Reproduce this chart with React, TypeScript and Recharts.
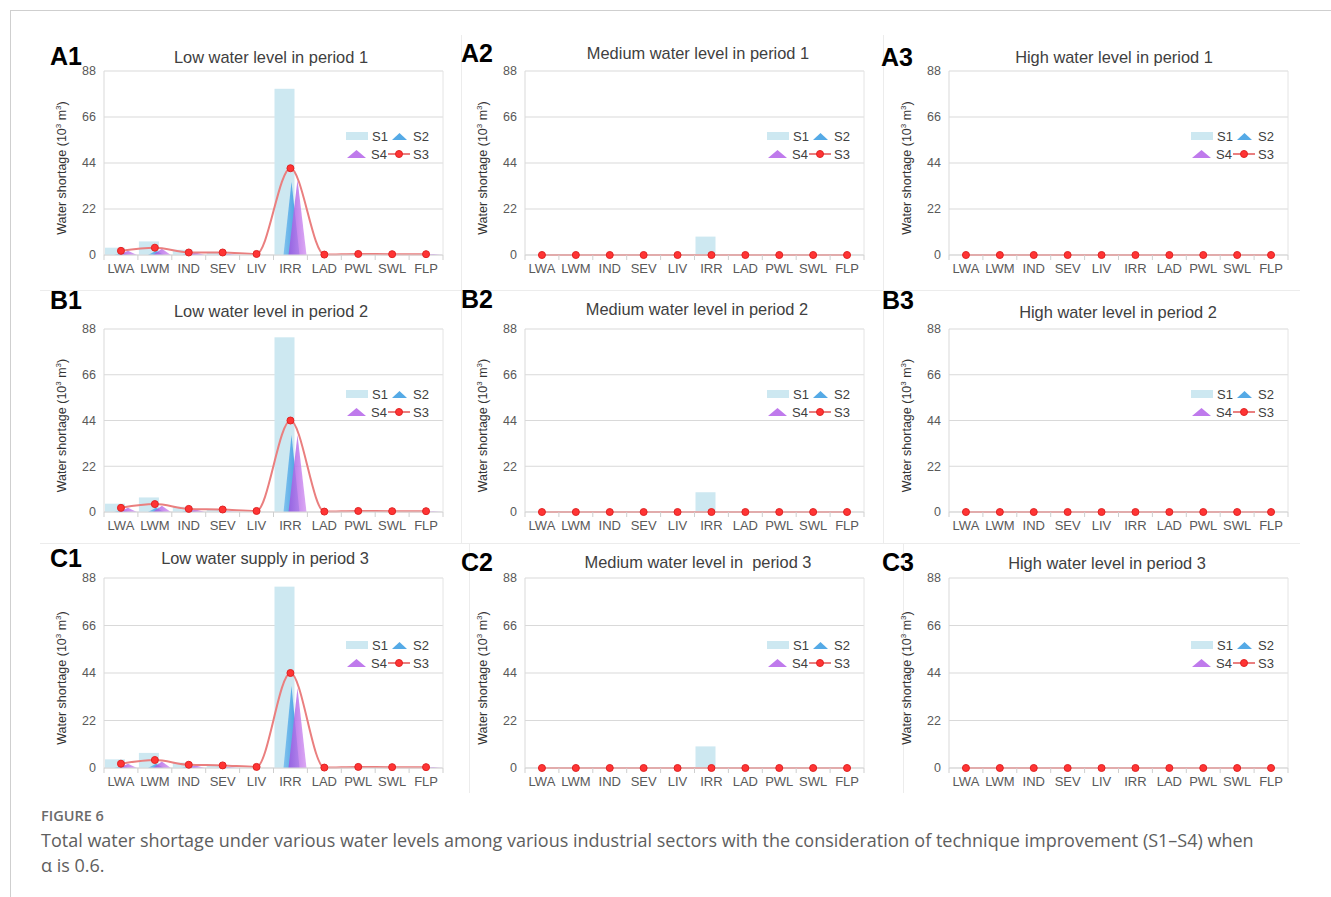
import React from "react";
import { ComposedChart, Bar, Line, XAxis, YAxis, CartesianGrid, Label } from "recharts";

// sectors on the x axis
const categories = ["LWA", "LWM", "IND", "SEV", "LIV", "IRR", "LAD", "PWL", "SWL", "FLP"];
const yTicks = [0, 22, 44, 66, 88];

// low water level (column 1)
const a1S1 = [3.5, 6.5, 2.5, 1.5, 0, 79.5, 0, 0.5, 0, 0];
const a1S2 = [0.8, 2, 1, 0.3, 0, 35, 0, 0, 0, 0.2];
const a1S4 = [2, 3, 1.2, 0.3, 0, 36, 0, 0.3, 0, 0.3];
const a1S3 = [2, 3.5, 1.2, 1.2, 0.5, 41.5, 0.2, 0.5, 0.4, 0.4];

const b1S1 = [4, 7, 2.5, 1.5, 0, 84, 0, 0.5, 0, 0];
const b1S2 = [0.8, 2, 1, 0.3, 0, 37, 0, 0, 0, 0.2];
const b1S4 = [2, 3, 1.2, 0.3, 0, 37, 0, 0.3, 0, 0.3];
const b1S3 = [2, 3.8, 1.5, 1.2, 0.5, 44, 0.2, 0.5, 0.4, 0.4];

const c1S1 = [4, 7, 2.5, 1.5, 0, 84, 0, 0.5, 0, 0];
const c1S2 = [0.8, 2, 1, 0.3, 0, 38, 0, 0, 0, 0.2];
const c1S4 = [2, 3, 1.2, 0.3, 0, 37, 0, 0.3, 0, 0.3];
const c1S3 = [2, 3.7, 1.5, 1.2, 0.5, 44, 0.2, 0.5, 0.4, 0.4];

// medium water level (column 2): only S1 irrigation is above zero
const a2S1 = [0, 0, 0, 0, 0, 8.8, 0, 0, 0, 0];
const b2S1 = [0, 0, 0, 0, 0, 9.5, 0, 0, 0, 0];
const c2S1 = [0, 0, 0, 0, 0, 10, 0, 0, 0, 0];

// all-zero series (medium S2-S4, high water level everything)
const zeros = [0, 0, 0, 0, 0, 0, 0, 0, 0, 0];

const panels = [
  { tag: "A1", title: "Low water level in period 1", s1: a1S1, s2: a1S2, s3: a1S3, s4: a1S4 },
  { tag: "A2", title: "Medium water level in period 1", s1: a2S1, s2: zeros, s3: zeros, s4: zeros },
  { tag: "A3", title: "High water level in period 1", s1: zeros, s2: zeros, s3: zeros, s4: zeros },
  { tag: "B1", title: "Low water level in period 2", s1: b1S1, s2: b1S2, s3: b1S3, s4: b1S4 },
  { tag: "B2", title: "Medium water level in period 2", s1: b2S1, s2: zeros, s3: zeros, s4: zeros },
  { tag: "B3", title: "High water level in period 2", s1: zeros, s2: zeros, s3: zeros, s4: zeros },
  { tag: "C1", title: "Low water supply in period 3", s1: c1S1, s2: c1S2, s3: c1S3, s4: c1S4 },
  { tag: "C2", title: "Medium water level in  period 3", s1: c2S1, s2: zeros, s3: zeros, s4: zeros },
  { tag: "C3", title: "High water level in period 3", s1: zeros, s2: zeros, s3: zeros, s4: zeros },
];

// layout of the 3x3 grid (plot area boxes, titles, tags)
const colLeft = [104, 525, 949];
const rowTop = [71, 329, 578];
const rowHeight = [184, 183, 190];
const plotWidth = 339;
const titlePos = [
  [271, 57], [698, 53], [1114, 57],
  [271, 311], [697, 309], [1118, 312],
  [265, 558], [698, 562], [1107, 563],
];
const tagPos = [
  [50, 56], [461, 53], [881, 57],
  [50, 300], [461, 299], [882, 300],
  [50, 558], [461, 562], [882, 562],
];

const C_S1 = "#cde8f1";
const C_S2 = "#55aae6";
const C_S4 = "#bf7aec";
const C_LINE = "#ea7f7f";
const C_DOT = "#ff3434";
const AXIS = "#d9d9d9";
const TXT = "#595959";
const FONT = "'Liberation Sans', Arial, sans-serif";
const CAPFONT = "'Open Sans', 'Noto Sans', sans-serif";

const triangle = (id: string, opacity: number) => (props: any) => {
  const { x, y, width, height } = props;
  if (!height || height < 0.5) return <g />;
  return (
    <path
      d={`M${x},${y + height} L${x + width / 2},${y} L${x + width},${y + height} Z`}
      fill={`url(#${id})`}
      fillOpacity={opacity}
    />
  );
};

const flatBar = (props: any) => {
  const { x, y, width, height } = props;
  if (!height || height < 0.5) return <g />;
  return <rect x={x} y={y} width={width} height={height} fill={C_S1} />;
};

const CatTick = (props: any) => {
  const { x, y, payload, index } = props;
  const half = payload.offset || plotWidth / 20;
  return (
    <g>
      <line x1={x - half} x2={x - half} y1={y - 8} y2={y - 3} stroke="#cfcfcf" />
      {index === categories.length - 1 && (
        <line x1={x + half} x2={x + half} y1={y - 8} y2={y - 3} stroke="#cfcfcf" />
      )}
      <text x={x} y={y + 1} dy="0.71em" textAnchor="middle" fontSize={13} fill={TXT} fontFamily={FONT}>
        {payload.value}
      </text>
    </g>
  );
};

const YTitle = (props: any) => {
  const vb = props.viewBox;
  const cx = vb.x + 18;
  const cy = vb.y + vb.height / 2 + 5;
  return (
    <text
      x={cx}
      y={cy}
      transform={`rotate(-90 ${cx} ${cy})`}
      textAnchor="middle"
      dominantBaseline="central"
      fontSize={12.5}
      fill="#333"
      fontFamily={FONT}
    >
      Water shortage (10
      <tspan dy={-4} fontSize={8}>3</tspan>
      <tspan dy={4}> m</tspan>
      <tspan dy={-4} fontSize={8}>3</tspan>
      <tspan dy={4}>)</tspan>
    </text>
  );
};

function PanelLegend({ left, top }: { left: number; top: number }) {
  const t = { fontSize: 13, fill: "#404040", fontFamily: FONT };
  return (
    <svg style={{ position: "absolute", left, top }} width={96} height={36}>
      <rect x={0} y={5} width={22} height={8} fill={C_S1} />
      <text x={26} y={14} {...t}>S1</text>
      <path d="M46,13 L53.5,6 L61,13 Z" fill={C_S2} />
      <text x={67} y={14} {...t}>S2</text>
      <path d="M1,31 L10.5,23 L20,31 Z" fill={C_S4} />
      <text x={25} y={32} {...t}>S4</text>
      <line x1={42} x2={64} y1={27} y2={27} stroke={C_LINE} strokeWidth={2} />
      <circle cx={53} cy={27} r={3.5} fill={C_DOT} stroke="#e02424" />
      <text x={67} y={32} {...t}>S3</text>
    </svg>
  );
}

function Panel({ idx }: { idx: number }) {
  const p = panels[idx];
  const col = idx % 3;
  const row = Math.floor(idx / 3);
  const pl = colLeft[col];
  const pt = rowTop[row];
  const ph = rowHeight[row];
  const data = categories.map((c, i) => ({ name: c, s1: p.s1[i], s2: p.s2[i], s4: p.s4[i], s3: p.s3[i] }));
  const margin = { top: 10, right: 10, bottom: 5, left: 0 };
  const g2 = `g2-${idx}`;
  const g4 = `g4-${idx}`;

  return (
    <>
      <div
        style={{
          position: "absolute",
          left: tagPos[idx][0],
          top: tagPos[idx][1],
          transform: "translateY(-50%)",
          fontFamily: FONT,
          fontWeight: 700,
          fontSize: 25,
          lineHeight: 1,
          color: "#000",
        }}
      >
        {p.tag}
      </div>
      <div
        style={{
          position: "absolute",
          left: titlePos[idx][0],
          top: titlePos[idx][1],
          transform: "translate(-50%, -50%)",
          fontFamily: FONT,
          fontSize: 16.4,
          lineHeight: 1,
          color: "#404040",
          whiteSpace: "pre",
        }}
      >
        {p.title}
      </div>
      <div style={{ position: "absolute", left: pl - 60, top: pt - margin.top }}>
        <ComposedChart
          width={60 + plotWidth + 1 + margin.right}
          height={margin.top + ph + 30 + margin.bottom}
          data={data}
          margin={margin}
          barGap={-11}
        >
          <defs>
            <linearGradient id={g2} x1="0" y1="0" x2="1" y2="0">
              <stop offset="0%" stopColor="#7cc0ee" />
              <stop offset="55%" stopColor={C_S2} />
              <stop offset="100%" stopColor="#3d8fd6" />
            </linearGradient>
            <linearGradient id={g4} x1="0" y1="0" x2="1" y2="0">
              <stop offset="0%" stopColor="#9d55e0" />
              <stop offset="55%" stopColor={C_S4} />
              <stop offset="100%" stopColor="#d69af2" />
            </linearGradient>
          </defs>
          <CartesianGrid vertical={false} stroke={AXIS} />
          <XAxis
            dataKey="name"
            tickLine={false}
            axisLine={{ stroke: AXIS }}
            tick={<CatTick />}
            interval={0}
            height={30}
          />
          <YAxis
            domain={[0, 88]}
            ticks={yTicks}
            width={60}
            tickLine={false}
            axisLine={{ stroke: AXIS }}
            tick={{ fontSize: 12.5, fill: TXT, fontFamily: FONT }}
          >
            <Label content={<YTitle />} />
          </YAxis>
          <YAxis
            yAxisId="r"
            orientation="right"
            domain={[0, 88]}
            width={1}
            tick={false}
            tickLine={false}
            axisLine={{ stroke: "#e4e4e4" }}
          />
          <Bar dataKey="s1" barSize={20} shape={flatBar} isAnimationActive={false} />
          <Bar dataKey="s2" barSize={16} shape={triangle(g2, 0.95)} isAnimationActive={false} />
          <Bar dataKey="s4" barSize={18} shape={triangle(g4, 0.85)} isAnimationActive={false} />
          <Line
            dataKey="s3"
            type="monotone"
            stroke={C_LINE}
            strokeWidth={2}
            dot={{ r: 3.5, fill: C_DOT, stroke: "#e02424", strokeWidth: 1 }}
            isAnimationActive={false}
          />
        </ComposedChart>
      </div>
      <PanelLegend left={pl + plotWidth - 97} top={pt + 0.355 * ph - 9} />
    </>
  );
}

export default function App() {
  return (
    <div
      style={{
        position: "absolute",
        left: 0,
        top: 0,
        width: 1331,
        height: 897,
        background: "#fff",
        overflow: "hidden",
      }}
    >
      <div
        style={{
          position: "absolute",
          left: 10,
          top: 10,
          width: 1330,
          height: 900,
          borderLeft: "1px solid #cfcfcf",
          borderTop: "1px solid #cfcfcf",
        }}
      />
      {/* panel separators */}
      <div style={{ position: "absolute", left: 40, top: 290, width: 1260, borderTop: "1px solid #ececec" }} />
      <div style={{ position: "absolute", left: 40, top: 543, width: 1260, borderTop: "1px solid #ececec" }} />
      <div style={{ position: "absolute", left: 461, top: 35, height: 508, borderLeft: "1px solid #ececec" }} />
      <div style={{ position: "absolute", left: 883, top: 35, height: 508, borderLeft: "1px solid #ececec" }} />
      <div style={{ position: "absolute", left: 469, top: 543, height: 250, borderLeft: "1px solid #ececec" }} />
      <div style={{ position: "absolute", left: 903, top: 543, height: 250, borderLeft: "1px solid #ececec" }} />

      {panels.map((_, i) => (
        <Panel key={i} idx={i} />
      ))}

      <div
        style={{
          position: "absolute",
          left: 41,
          top: 808,
          fontFamily: CAPFONT,
          fontWeight: 600,
          fontSize: 14.5,
          lineHeight: "15px",
          color: "#6b6b6b",
        }}
      >
        FIGURE 6
      </div>
      <div
        style={{
          position: "absolute",
          left: 41,
          top: 828,
          width: 1290,
          whiteSpace: "nowrap",
          fontFamily: CAPFONT,
          fontSize: 18,
          lineHeight: "25px",
          color: "#5e5e5e",
        }}
      >
        Total water shortage under various water levels among various industrial sectors with the consideration of technique improvement (S1–S4) when
        <br />α is 0.6.
      </div>
    </div>
  );
}
